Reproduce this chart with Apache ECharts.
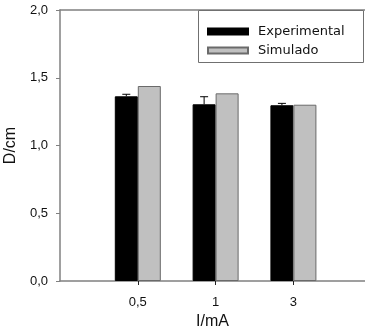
<!DOCTYPE html>
<html>
<head>
<meta charset="utf-8">
<script src="https://cdn.jsdelivr.net/npm/echarts@6/dist/echarts.min.js"></script>
<style>
  html, body { margin: 0; padding: 0; background: #fff; }
  #main { width: 365px; height: 328px; }
</style>
</head>
<body>
<div id="main"></div>
<script>
// datos
var categories = ['0,5', '1', '3'];
var xPos = [1, 2, 3];
var experimental = [1.363, 1.304, 1.297];
var experimentalErr = [0.015, 0.056, 0.014];
var simulado = [1.439, 1.385, 1.301];

var barW = 23;
var xMax = 3.92;
var axisGray = '#808080';
var labelFont = 'Liberation Sans';

var expData = xPos.map(function (x, i) { return [x, experimental[i]]; });
var simData = xPos.map(function (x, i) { return [x, simulado[i]]; });
var errData = xPos.map(function (x, i) { return [x, experimental[i], experimental[i] + experimentalErr[i]]; });

var option = {
  animation: false,
  backgroundColor: '#fff',
  grid: {
    left: 60,
    top: 10,
    right: 0,
    bottom: 47,
    outerBoundsMode: 'none',
    containLabel: false
  },
  graphic: [{
    type: 'rect',
    left: 198,
    top: 10,
    shape: { width: 165, height: 52 },
    style: { fill: '#fff', stroke: '#707070', lineWidth: 1 },
    z: 10
  }],
  legend: {
    orient: 'vertical',
    left: 202,
    top: 20,
    itemWidth: 40,
    itemHeight: 6,
    itemGap: 6,
    icon: 'rect',
    z: 20,
    textStyle: {
      fontFamily: 'DejaVu Sans',
      fontSize: 13,
      color: '#111',
      padding: [0, 0, 0, 5]
    },
    data: ['Experimental', 'Simulado']
  },
  xAxis: [{
    type: 'value',
    min: 0,
    max: xMax,
    name: 'I/mA',
    nameLocation: 'middle',
    nameGap: 31,
    nameTextStyle: { fontFamily: labelFont, fontSize: 16, color: '#111' },
    splitLine: { show: false },
    axisLine: { lineStyle: { color: axisGray, width: 1.5 } },
    axisTick: { customValues: xPos, length: 4, lineStyle: { color: '#222' } },
    axisLabel: {
      customValues: xPos,
      margin: 15,
      fontFamily: labelFont,
      fontSize: 13,
      color: '#111',
      formatter: function (v) { return categories[xPos.indexOf(v)]; }
    }
  }, {
    type: 'value',
    position: 'top',
    min: 0,
    max: xMax,
    splitLine: { show: false },
    axisLine: { show: true, lineStyle: { color: axisGray, width: 1.5 } },
    axisTick: { show: false },
    axisLabel: { show: false }
  }],
  yAxis: {
    type: 'value',
    min: 0,
    max: 2,
    interval: 0.5,
    name: 'D/cm',
    nameLocation: 'middle',
    nameGap: 38,
    nameTextStyle: { fontFamily: labelFont, fontSize: 16, color: '#111' },
    splitLine: { show: false },
    axisLine: { show: true, lineStyle: { color: axisGray, width: 1.5 } },
    axisTick: { length: 4, lineStyle: { color: axisGray } },
    axisLabel: {
      margin: 12,
      fontFamily: labelFont,
      fontSize: 13,
      color: '#111',
      formatter: function (v) { return v.toFixed(1).replace('.', ','); }
    }
  },
  series: [{
    name: 'Experimental',
    type: 'bar',
    barWidth: barW,
    barGap: '0%',
    itemStyle: { color: '#000', borderColor: '#000', borderWidth: 1 },
    data: expData
  }, {
    name: 'Simulado',
    type: 'bar',
    barWidth: barW,
    barGap: '0%',
    itemStyle: { color: '#c0c0c0', borderColor: '#6a6a6a', borderWidth: 1 },
    data: simData
  }, {
    name: 'err',
    type: 'custom',
    z: 5,
    renderItem: function (params, api) {
      var p0 = api.coord([api.value(0), api.value(1)]);
      var p1 = api.coord([api.value(0), api.value(2)]);
      var cx = p0[0] - barW / 2;
      return {
        type: 'group',
        children: [{
          type: 'line',
          shape: { x1: cx, y1: p0[1], x2: cx, y2: p1[1] },
          style: { stroke: '#000', lineWidth: 1 }
        }, {
          type: 'line',
          shape: { x1: cx - 4, y1: p1[1], x2: cx + 4, y2: p1[1] },
          style: { stroke: '#000', lineWidth: 1 }
        }]
      };
    },
    data: errData
  }]
};

var myChart = echarts.init(document.getElementById('main'));
myChart.setOption(option, true);
</script>
</body>
</html>
